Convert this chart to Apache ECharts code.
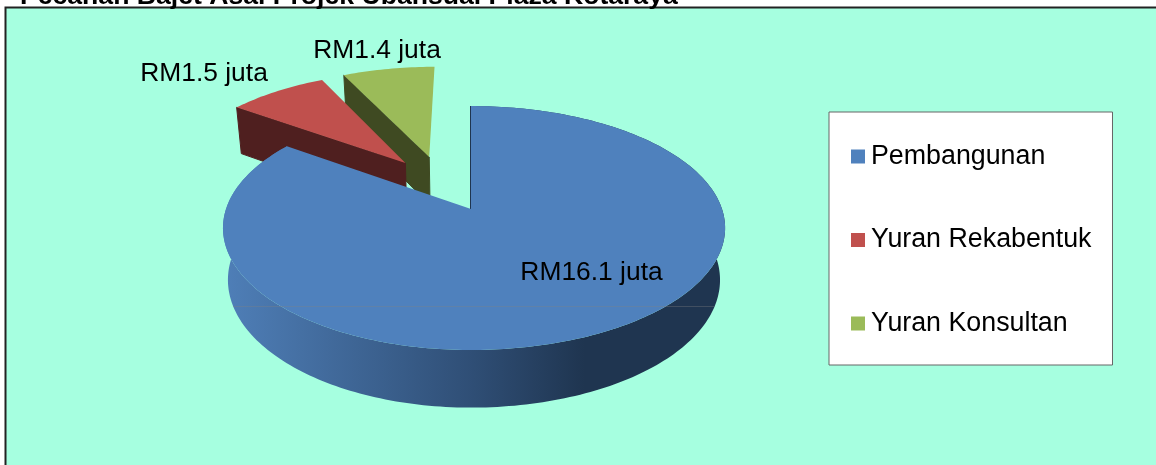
<!DOCTYPE html>
<html>
<head>
<meta charset="utf-8">
<style>
  html, body { margin: 0; padding: 0; background: #fff; }
  #main { width: 1156px; height: 465px; }
</style>
<script src="https://cdn.jsdelivr.net/npm/echarts@6/dist/echarts.min.js"></script>
</head>
<body>
<div id="main"></div>
<script>
const titleText = 'Pecahan Bajet Asal Projek Ubahsuai Plaza Kotaraya';
const categories = ['Pembangunan', 'Yuran Rekabentuk', 'Yuran Konsultan'];
const values = [16.1, 1.5, 1.4];
const valueLabels = ['RM16.1 juta', 'RM1.5 juta', 'RM1.4 juta'];

const topColors = ['#4F81BD', '#C0504D', '#9BBB59'];
const wallColors = ['#1F3550', '#4F1F1F', '#3F4A22'];
// how far each slice is pulled out of the pie, in pie radii
const sliceOffsets = [[0, 0], [-0.285, -0.411], [-0.183, -0.469]];
const labelPositions = [[591.5, 272.5], [204, 74], [377, 51]];

// perspective of the tilted pie
const cx = 471, cy = 209, rxLeft = 245, rxRight = 251, ry = 119, tilt = 0.156, depth = 51, shrink = 0.98;

function project(X, Y, bottom) {
    const f = 1 / (1 - tilt * Y);
    const s = bottom ? shrink : 1;
    const rx = X < 0 ? rxLeft : rxRight;
    return [cx + X * rx * f * s, cy + Y * ry * f * s + (bottom ? depth * f : 0)];
}

const total = values.reduce((a, b) => a + b, 0);

function makeRenderItem(index) {
    return function (params, api) {
        const value = api.value(0);
        let before = 0;
        for (let i = 0; i < index; i++) before += values[i];
        const start = before / total * Math.PI * 2;
        const sweep = value / total * Math.PI * 2;
        const [ox, oy] = sliceOffsets[index];

        const rim = [];
        const steps = Math.ceil(sweep / 0.02);
        for (let i = 0; i <= steps; i++) {
            const a = start + sweep * i / steps;
            rim.push([ox + Math.sin(a), oy - Math.cos(a)]);
        }
        const topRim = rim.map(p => project(p[0], p[1], false));
        const lowRim = rim.map(p => project(p[0], p[1], true));
        const apexTop = project(ox, oy, false);
        const apexLow = project(ox, oy, true);

        const children = [
            // cut face on the leading edge, the other one faces away
            {
                type: 'polygon',
                shape: { points: [apexTop, topRim[0], lowRim[0], apexLow] },
                style: { fill: wallColors[index], stroke: wallColors[index], lineWidth: index === 0 ? 2 : 1 }
            }
        ];
        // only the big slice shows its outer wall
        if (index === 0) {
            children.push({
                type: 'polygon',
                shape: { points: topRim.concat(lowRim.slice().reverse()) },
                style: {
                    fill: new echarts.graphic.LinearGradient(223, 0, 725, 0, [
                        { offset: 0, color: '#4F7FB8' },
                        { offset: 0.5, color: '#2F4E75' },
                        { offset: 0.72, color: '#1F3550' },
                        { offset: 1, color: '#1F3550' }
                    ], true)
                }
            });
        }
        children.push({
            type: 'polygon',
            shape: { points: [apexTop].concat(topRim) },
            style: { fill: topColors[index] }
        });
        children.push({
            type: 'text',
            z2: 10,
            x: labelPositions[index][0],
            y: labelPositions[index][1],
            style: {
                text: valueLabels[index],
                fill: '#000',
                font: '26.4px "Liberation Sans", Arial, sans-serif',
                align: 'center',
                verticalAlign: 'middle'
            }
        });
        return { type: 'group', children: children };
    };
}

const myChart = echarts.init(document.getElementById('main'));

const series = categories.map((name, i) => ({
    name: name,
    type: 'custom',
    coordinateSystem: 'none',
    // far slices first so the big one paints over them
    z: 5 - i,
    itemStyle: { color: topColors[i] },
    renderItem: makeRenderItem(i),
    silent: true,
    data: [[values[i]]]
}));

myChart.setOption({
    animation: false,
    backgroundColor: '#fff',
    title: {
        text: titleText,
        left: 20,
        top: -17,
        padding: 0,
        textStyle: {
            fontFamily: '"Liberation Sans", Arial, sans-serif',
            fontWeight: 'bold',
            fontSize: 26.6,
            color: '#000'
        }
    },
    legend: {
        orient: 'vertical',
        left: 829,
        top: 112,
        data: categories,
        icon: 'rect',
        itemWidth: 14,
        itemHeight: 14,
        itemGap: 56.5,
        padding: [31, 21, 28, 22],
        backgroundColor: '#fff',
        borderColor: '#666',
        borderWidth: 1,
        textStyle: {
            fontFamily: '"Liberation Sans", Arial, sans-serif',
            fontSize: 26.8,
            color: '#000',
            padding: [0, 0, 0, 1]
        }
    },
    graphic: [
        {
            type: 'rect',
            z: -1,
            shape: { x: 5.5, y: 7.5, width: 1160, height: 470 },
            style: { fill: '#A6FFE0', stroke: '#222', lineWidth: 2 }
        },
        // faint seam running across the pie in the source image
        {
            type: 'line',
            z: 20,
            shape: { x1: 233, y1: 306.5, x2: 714, y2: 306.5 },
            style: { stroke: 'rgba(130,130,130,0.35)', lineWidth: 1 }
        }
    ],
    series: series
});
</script>
</body>
</html>
